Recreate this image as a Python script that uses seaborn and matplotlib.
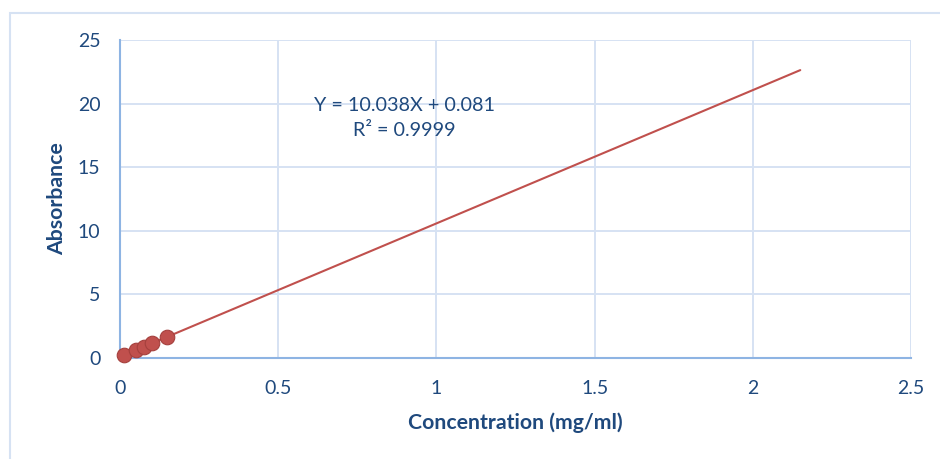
import matplotlib
matplotlib.use("Agg")
import matplotlib.pyplot as plt
from matplotlib.patches import Rectangle
import numpy as np
import seaborn as sns

# calibration data
concentration = [0.0125, 0.05, 0.075, 0.1, 0.15]
absorbance = [0.22, 0.60, 0.87, 1.14, 1.67]

# trendline as drawn (forward forecast to ~2.15 mg/ml)
trend_slope = 10.48
trend_intercept = 0.10
trend_end = 2.15
equation_text = "Y = 10.038X + 0.081\nR\u00b2 = 0.9999"

x_ticks = [0, 0.5, 1, 1.5, 2, 2.5]
x_tick_labels = ["0", "0.5", "1", "1.5", "2", "2.5"]
y_ticks = [0, 5, 10, 15, 20, 25]

TEXT = "#1F497D"
GRID = "#D6E2F3"
AXIS = "#8EB4E3"
RED = "#C0504D"

sns.set_theme(style="whitegrid")
plt.rcParams["font.family"] = ["Lato", "DejaVu Sans"]

fig = plt.figure(figsize=(9.4, 4.59), dpi=100)
ax = fig.add_axes([120 / 940, 1 - 358 / 459, (911 - 120) / 940, (358 - 40) / 459])

# chart area border
fig.patches.append(Rectangle((10 / 940, -0.05), 1.0, 1 - 13 / 459 + 0.05,
                             transform=fig.transFigure, fill=False,
                             edgecolor=GRID, linewidth=1.5))

trend_x = np.array([concentration[0], trend_end])
trend_y = trend_slope * trend_x + trend_intercept
sns.lineplot(x=trend_x, y=trend_y, color=RED, linewidth=1.5, ax=ax, zorder=3)
sns.scatterplot(x=concentration, y=absorbance, color=RED, edgecolor="#A5403D",
                s=110, linewidth=0.8, ax=ax, zorder=4, clip_on=False)

ax.set_xlim(0, 2.5)
ax.set_ylim(0, 25)
ax.set_xticks(x_ticks)
ax.set_xticklabels(x_tick_labels)
ax.set_yticks(y_ticks)
ax.set_facecolor("white")
ax.grid(True, color=GRID, linewidth=1.4)
ax.tick_params(axis="both", length=0, labelsize=14, labelcolor=TEXT)
ax.tick_params(axis="x", pad=16)
ax.tick_params(axis="y", pad=14)

for side in ["top", "right"]:
    ax.spines[side].set_visible(False)
for side in ["left", "bottom"]:
    ax.spines[side].set_visible(True)
    ax.spines[side].set_color(AXIS)
    ax.spines[side].set_linewidth(1.5)

ax.set_xlabel("Concentration (mg/ml)", fontsize=15.3, fontweight="bold", color=TEXT, labelpad=11)
ax.set_ylabel("Absorbance", fontsize=15.3, fontweight="bold", color=TEXT, labelpad=8)

ax.text(0.9, 18.85, equation_text, ha="center", va="center", fontsize=14.2,
        color=TEXT, linespacing=1.6)

fig.savefig("out.png", dpi=100, facecolor="white")
